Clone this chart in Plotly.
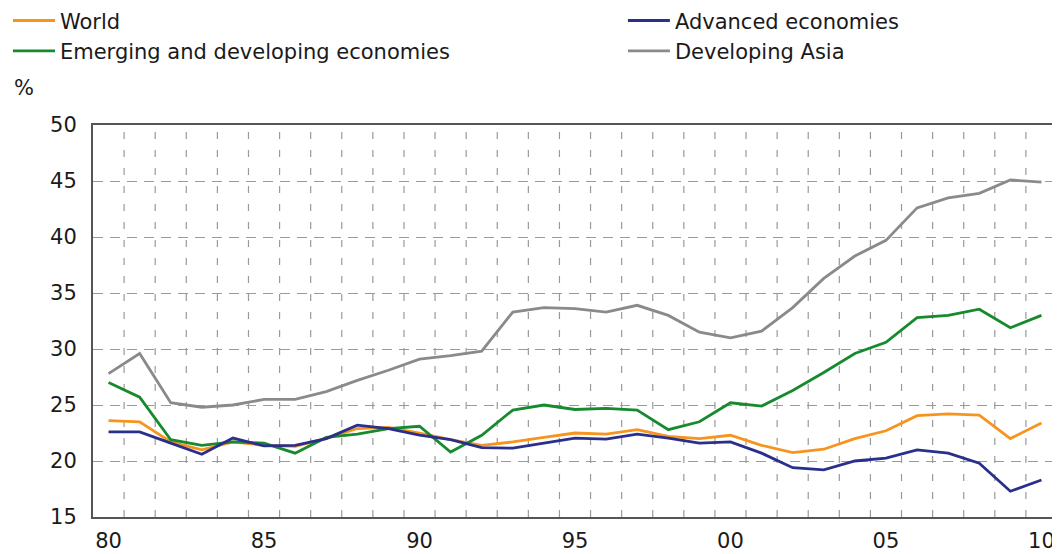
import plotly.graph_objects as go

years = list(range(1980, 2011))
tick_vals = [1980, 1985, 1990, 1995, 2000, 2005, 2010]
tick_text = ["80", "85", "90", "95", "00", "05", "10"]

world = [23.6, 23.5, 21.7, 21.0, 21.7, 21.4, 21.3, 22.0, 22.9, 23.0, 22.5,
         21.9, 21.4, 21.7, 22.1, 22.5, 22.4, 22.8, 22.2, 22.0, 22.3,
         21.4, 20.75, 21.05, 22.0, 22.7, 24.05, 24.2, 24.1, 22.0, 23.4]
advanced = [22.6, 22.6, 21.6, 20.6, 22.05, 21.35, 21.4, 22.0, 23.2, 22.9, 22.3,
            21.9, 21.2, 21.15, 21.6, 22.05, 21.95, 22.4, 22.05, 21.6, 21.7,
            20.7, 19.4, 19.2, 20.0, 20.25, 21.0, 20.7, 19.8, 17.3, 18.3]
emerging = [27.0, 25.7, 21.9, 21.4, 21.7, 21.6, 20.7, 22.1, 22.4, 22.9, 23.1,
            20.8, 22.3, 24.55, 25.0, 24.6, 24.7, 24.55, 22.8, 23.5, 25.2,
            24.9, 26.3, 27.9, 29.6, 30.6, 32.8, 33.0, 33.55, 31.9, 33.0]
dev_asia = [27.8, 29.6, 25.2, 24.8, 25.0, 25.5, 25.5, 26.2, 27.2, 28.1, 29.1,
            29.4, 29.8, 33.3, 33.7, 33.6, 33.3, 33.9, 33.0, 31.5, 31.0,
            31.6, 33.7, 36.3, 38.3, 39.7, 42.6, 43.5, 43.9, 45.1, 44.9]

series = [
    ("World", world, "#F7941D", "legend"),
    ("Emerging and developing economies", emerging, "#168A2C", "legend"),
    ("Advanced economies", advanced, "#2B2F8C", "legend2"),
    ("Developing Asia", dev_asia, "#8A8A8A", "legend2"),
]

FONT = "DejaVu Sans, sans-serif"
FS = 21

fig = go.Figure()
for name, vals, color, leg in series:
    fig.add_trace(go.Scatter(x=years, y=vals, mode="lines", name=name, legend=leg,
                             line=dict(color=color, width=2.8)))

# vertical dashed gridlines at year boundaries
for yr in years[:-1]:
    fig.add_shape(type="line", xref="x", yref="paper", x0=yr + 0.5, x1=yr + 0.5,
                  y0=0, y1=1, line=dict(color="#9a9a9a", width=1.2, dash="7px,11px"),
                  layer="below")

leg_common = dict(orientation="v", xref="paper", yref="paper",
                  xanchor="left", yanchor="top", font=dict(size=FS, family=FONT),
                  tracegroupgap=0, itemwidth=42, bgcolor="rgba(0,0,0,0)",
                  traceorder="normal")

fig.update_layout(
    width=1052, height=546,
    margin=dict(l=85, r=3, t=117, b=37, autoexpand=False),
    paper_bgcolor="white", plot_bgcolor="white",
    font=dict(family=FONT, size=FS, color="#1a1a1a"),
    legend=dict(x=-0.0882, y=1.318, **leg_common),
    legend2=dict(x=0.5497, y=1.318, **leg_common),
    xaxis=dict(range=[1979.5, 2010.5], tickvals=tick_vals, ticktext=tick_text,
               showgrid=False, showline=True, linecolor="#555", linewidth=2,
               mirror=True, ticks="outside", ticklen=4, tickcolor="white",
               zeroline=False, tickfont=dict(size=FS, family=FONT)),
    yaxis=dict(range=[15, 50], tickvals=[15, 20, 25, 30, 35, 40, 45, 50],
               showgrid=True, gridcolor="#9a9a9a", gridwidth=1.2, griddash="10px,7px",
               showline=True, linecolor="#555", linewidth=2, mirror=True,
               ticks="outside", ticklen=10, tickcolor="white", zeroline=False,
               tickfont=dict(size=FS, family=FONT)),
    annotations=[dict(text="%", xref="paper", yref="paper", x=-0.084, y=1.094,
                      xanchor="left", yanchor="middle", showarrow=False,
                      font=dict(size=FS, family=FONT))],
)

fig.write_html("out.html")
